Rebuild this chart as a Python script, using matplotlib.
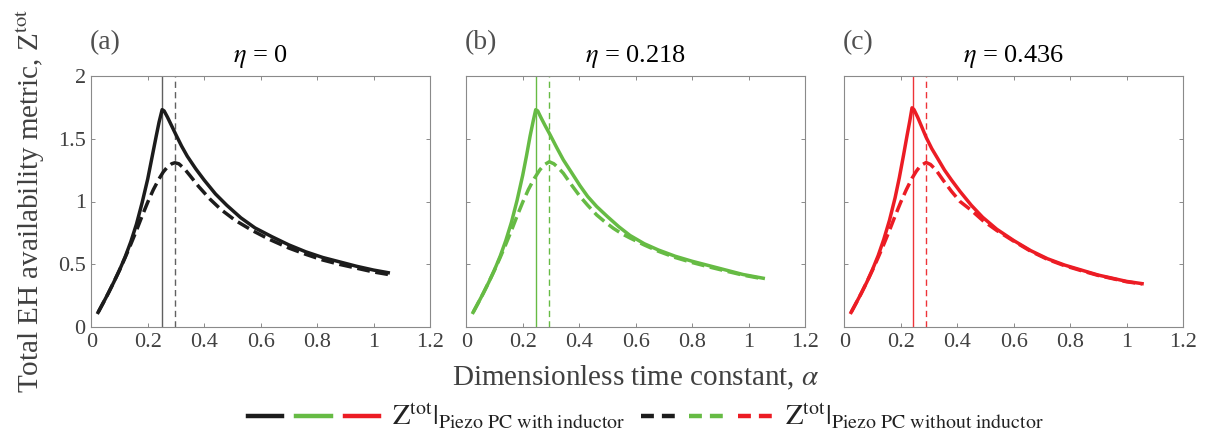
import matplotlib
matplotlib.use("Agg")
import matplotlib.pyplot as plt
from matplotlib.lines import Line2D
from matplotlib.legend_handler import HandlerTuple

plt.rcParams['font.family'] = ['Liberation Serif', 'DejaVu Serif']
plt.rcParams['mathtext.fontset'] = 'stix'

# ---- data ----
etas = ["0", "0.218", "0.436"]
panel_tags = ["(a)", "(b)", "(c)"]

# panel (a), eta = 0
a_with_alpha = [0.024, 0.04, 0.06, 0.08, 0.10, 0.12, 0.14, 0.16, 0.18, 0.20, 0.215, 0.23, 0.24, 0.251,
                0.258, 0.27, 0.285, 0.30, 0.32, 0.34, 0.37, 0.40, 0.44, 0.48, 0.53, 0.58, 0.64,
                0.70, 0.76, 0.82, 0.88, 0.94, 1.00, 1.052]
a_with_Z = [0.118, 0.185, 0.27, 0.36, 0.455, 0.56, 0.68, 0.82, 0.99, 1.18, 1.35, 1.52, 1.63, 1.73,
            1.72, 1.67, 1.60, 1.53, 1.44, 1.36, 1.26, 1.17, 1.06, 0.97, 0.87, 0.79, 0.72,
            0.655, 0.60, 0.555, 0.52, 0.485, 0.455, 0.434]
a_wo_alpha = [0.024, 0.04, 0.06, 0.08, 0.10, 0.12, 0.14, 0.16, 0.18, 0.20, 0.22, 0.24, 0.255, 0.27,
              0.285, 0.296, 0.31, 0.33, 0.35, 0.38, 0.42, 0.46, 0.51, 0.57, 0.63, 0.70, 0.76,
              0.82, 0.88, 0.94, 1.00, 1.052]
a_wo_Z = [0.118, 0.185, 0.27, 0.36, 0.455, 0.555, 0.66, 0.77, 0.885, 0.995, 1.095, 1.18, 1.235, 1.275,
          1.30, 1.308, 1.30, 1.26, 1.205, 1.12, 1.02, 0.935, 0.85, 0.77, 0.70, 0.63, 0.58,
          0.535, 0.50, 0.47, 0.44, 0.42]

# panel (b), eta = 0.218
b_with_alpha = [0.024, 0.04, 0.06, 0.08, 0.10, 0.12, 0.14, 0.16, 0.18, 0.20, 0.213, 0.226, 0.237, 0.246,
                0.253, 0.265, 0.28, 0.297, 0.32, 0.344, 0.37, 0.403, 0.43, 0.462, 0.50, 0.54, 0.58,
                0.63, 0.68, 0.74, 0.80, 0.86, 0.92, 0.98, 1.052]
b_with_Z = [0.118, 0.185, 0.27, 0.36, 0.457, 0.565, 0.69, 0.835, 1.01, 1.21, 1.36, 1.52, 1.64, 1.73,
            1.72, 1.665, 1.60, 1.53, 1.43, 1.33, 1.24, 1.125, 1.04, 0.96, 0.88, 0.80, 0.73,
            0.665, 0.615, 0.565, 0.525, 0.49, 0.455, 0.42, 0.39]
b_wo_alpha = [0.024, 0.04, 0.06, 0.08, 0.10, 0.12, 0.14, 0.16, 0.18, 0.20, 0.22, 0.24, 0.26, 0.275,
              0.294, 0.31, 0.325, 0.344, 0.37, 0.403, 0.43, 0.462, 0.49, 0.521, 0.55, 0.58, 0.63,
              0.68, 0.74, 0.80, 0.86, 0.92, 0.98, 1.052]
b_wo_Z = [0.118, 0.185, 0.27, 0.36, 0.455, 0.555, 0.66, 0.77, 0.885, 0.995, 1.095, 1.18, 1.25, 1.29,
          1.316, 1.30, 1.27, 1.224, 1.14, 1.04, 0.97, 0.893, 0.84, 0.787, 0.745, 0.71, 0.655,
          0.605, 0.555, 0.515, 0.48, 0.447, 0.415, 0.385]

# panel (c), eta = 0.436
c_with_alpha = [0.024, 0.04, 0.06, 0.08, 0.10, 0.12, 0.14, 0.16, 0.18, 0.195, 0.21, 0.222, 0.232, 0.240,
                0.247, 0.26, 0.275, 0.29, 0.31, 0.33, 0.355, 0.38, 0.41, 0.45, 0.49, 0.54, 0.60,
                0.66, 0.72, 0.78, 0.84, 0.90, 0.96, 1.00, 1.055]
c_with_Z = [0.118, 0.185, 0.27, 0.36, 0.46, 0.57, 0.70, 0.85, 1.03, 1.19, 1.37, 1.52, 1.64, 1.745,
            1.73, 1.67, 1.59, 1.51, 1.42, 1.345, 1.25, 1.17, 1.08, 0.97, 0.875, 0.78, 0.69,
            0.61, 0.545, 0.495, 0.455, 0.415, 0.385, 0.365, 0.347]
c_wo_alpha = [0.024, 0.04, 0.06, 0.08, 0.10, 0.12, 0.14, 0.16, 0.18, 0.20, 0.22, 0.24, 0.255, 0.27,
              0.29, 0.305, 0.325, 0.35, 0.38, 0.41, 0.45, 0.49, 0.54, 0.60, 0.66, 0.72, 0.78,
              0.84, 0.90, 0.96, 1.00, 1.055]
c_wo_Z = [0.118, 0.185, 0.27, 0.36, 0.455, 0.555, 0.66, 0.77, 0.885, 0.995, 1.095, 1.185, 1.24, 1.285,
          1.31, 1.295, 1.25, 1.17, 1.08, 1.0, 0.93, 0.85, 0.77, 0.685, 0.605, 0.54, 0.49,
          0.45, 0.412, 0.382, 0.362, 0.345]

opt_with = [0.251, 0.246, 0.243]      # optimal alpha, with inductor
opt_wo = [0.298, 0.293, 0.288]        # optimal alpha, without inductor

x_ticks = [0, 0.2, 0.4, 0.6, 0.8, 1, 1.2]
x_ticklabels = ["0", "0.2", "0.4", "0.6", "0.8", "1", "1.2"]
y_ticks = [0, 0.5, 1, 1.5, 2]
y_ticklabels = ["0", "0.5", "1", "1.5", "2"]

with_series = [(a_with_alpha, a_with_Z), (b_with_alpha, b_with_Z), (c_with_alpha, c_with_Z)]
wo_series = [(a_wo_alpha, a_wo_Z), (b_wo_alpha, b_wo_Z), (c_wo_alpha, c_wo_Z)]

colors = ["#1c1c1c", "#66bb44", "#ec1c24"]
vcolors = ["#606060", "#66bb44", "#ee3338"]

W, H = 1206, 445
fig = plt.figure(figsize=(W / 100, H / 100), dpi=100)

lefts = [91.3, 466.3, 844.3]
ax_w = 338.7
top, bottom = 75.7, 327.3

tick_col = "#404040"
for i in range(3):
    ax = fig.add_axes([lefts[i] / W, 1 - bottom / H, ax_w / W, (bottom - top) / H])
    aw, zw = with_series[i]
    ao, zo = wo_series[i]
    ax.axvline(opt_with[i], color=vcolors[i], lw=1.0)
    ax.axvline(opt_wo[i], color=vcolors[i], lw=1.0, dashes=(4.5, 3))
    ax.plot(aw, zw, color=colors[i], lw=2.5, solid_joinstyle='round')
    ax.plot(ao, zo, color=colors[i], lw=2.5, ls='--')
    ax.set_xlim(0, 1.2)
    ax.set_ylim(0, 2)
    ax.set_xticks(x_ticks)
    ax.set_xticklabels(x_ticklabels)
    ax.set_yticks(y_ticks)
    if i == 0:
        ax.set_yticklabels(y_ticklabels)
    else:
        ax.set_yticklabels([])
    ax.tick_params(direction='in', length=3, width=0.7, top=True, right=True,
                   labelsize=16, colors="#8a8a8a", labelcolor=tick_col, pad=4)
    for s in ax.spines.values():
        s.set_color("#8a8a8a")
        s.set_linewidth(0.8)
    ax.text(0.5, 1.075, r"$\eta$ = " + etas[i], transform=ax.transAxes, ha='center',
            va='center', fontsize=19, color="black")
    ax.text(-0.005, 1.13, panel_tags[i], transform=ax.transAxes, ha='left', va='center',
            fontsize=20, color="#505050")

fig.text(31 / W, 1 - 201 / H, r"Total EH availability metric, Z$^{\rm tot}$", rotation=90,
         ha='center', va='center', fontsize=21, color="#404040")
fig.text(636 / W, 1 - 378 / H, r"Dimensionless time constant, $\alpha$", ha='center',
         va='center', fontsize=21, color="#404040")

# legend proxies
h_with = tuple(Line2D([], [], color=c, lw=3.2) for c in colors)
h_wo = tuple(Line2D([], [], color=c, lw=3.2, dashes=(2.9, 1.8)) for c in colors)
leg = fig.legend(handles=[h_with, h_wo],
                 labels=[r"$\mathrm{Z}^{\mathrm{tot}}|_{\mathrm{Piezo\ PC\ with\ inductor}}$",
                         r"$\mathrm{Z}^{\mathrm{tot}}|_{\mathrm{Piezo\ PC\ without\ inductor}}$"],
                 handler_map={tuple: HandlerTuple(ndivide=None, pad=0.49)},
                 ncol=2, frameon=False, loc='center left',
                 bbox_to_anchor=(248 / W, 1 - 417 / H), borderaxespad=0, borderpad=0,
                 handlelength=4.6, handletextpad=0.46, columnspacing=0.55, fontsize=20.5)
for t in leg.get_texts():
    t.set_color("#222222")

fig.savefig("out.png", dpi=100)
